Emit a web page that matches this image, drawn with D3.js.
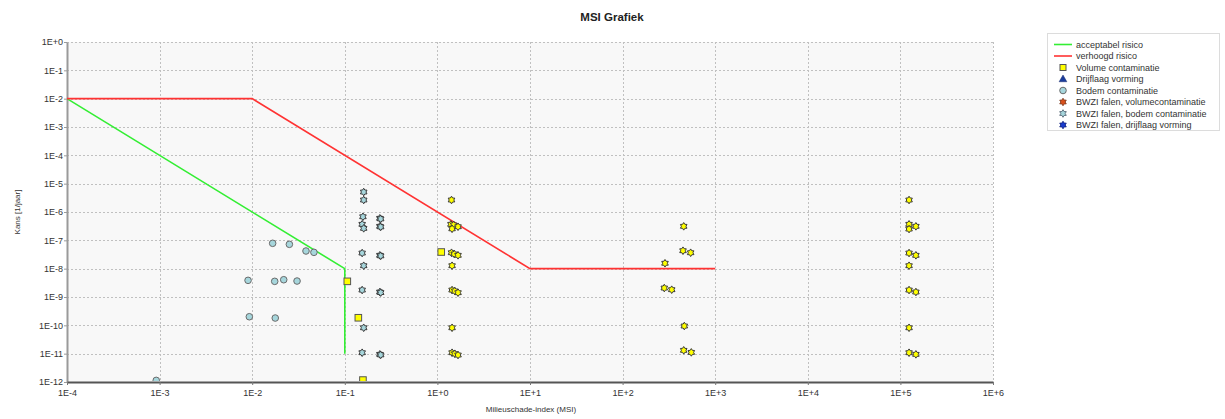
<!DOCTYPE html>
<html>
<head>
<meta charset="utf-8">
<script src="https://cdn.jsdelivr.net/npm/d3@7"></script>
<style>
  html, body { margin: 0; padding: 0; background: #fff; }
  svg { display: block; font-family: "Liberation Sans", Arial, sans-serif; }
</style>
</head>
<body>
<svg id="chart" width="1225" height="419"></svg>
<script>
// ---- Data ----------------------------------------------------------------
const chartTitle = "MSI Grafiek";
const xTitle = "Milieuschade-index (MSI)";
const yTitle = "Kans [1/jaar]";

const xTickValues = [1e-4, 1e-3, 1e-2, 1e-1, 1e0, 1e1, 1e2, 1e3, 1e4, 1e5, 1e6];
const xTickLabels = ["1E-4", "1E-3", "1E-2", "1E-1", "1E+0", "1E+1", "1E+2", "1E+3", "1E+4", "1E+5", "1E+6"];
const yTickValues = [1e0, 1e-1, 1e-2, 1e-3, 1e-4, 1e-5, 1e-6, 1e-7, 1e-8, 1e-9, 1e-10, 1e-11, 1e-12];
const yTickLabels = ["1E+0", "1E-1", "1E-2", "1E-3", "1E-4", "1E-5", "1E-6", "1E-7", "1E-8", "1E-9", "1E-10", "1E-11", "1E-12"];

// risk boundaries [MSI, kans]
const acceptabelRisico = [[1e-4, 1e-2], [1e-1, 1e-8], [1e-1, 1e-11]];
const verhoogdRisico = [[1e-4, 1e-2], [1e-2, 1e-2], [1e1, 1e-8], [1e3, 1e-8]];

// scenario points [MSI, kans]
const volumeContaminatie = [
  [0.1064, 3.57e-9], [0.140, 1.85e-10], [0.157, 1.17e-12], [1.10, 3.87e-8]
];
const drijflaagVorming = [];
const bodemContaminatie = [
  [0.01663, 7.85e-8], [0.0252, 7.23e-8], [0.0381, 4.2e-8], [0.0464, 3.77e-8],
  [0.00902, 3.87e-9], [0.0175, 3.57e-9], [0.0219, 4.07e-9], [0.0305, 3.66e-9],
  [0.00931, 2.01e-10], [0.01774, 1.81e-10], [9.2e-4, 1.14e-12]
];
const bwziVolumeContaminatie = [
  // around MSI 1.5
  [1.42, 2.65e-6], [1.40, 3.67e-7], [1.50, 3.5e-7], [1.44, 2.55e-7], [1.67, 3.02e-7],
  [1.42, 3.65e-8], [1.52, 3.29e-8], [1.67, 2.96e-8], [1.44, 1.27e-8],
  [1.44, 1.76e-9], [1.54, 1.63e-9], [1.67, 1.42e-9], [1.44, 8.2e-11],
  [1.44, 1.08e-11], [1.54, 9.93e-12], [1.67, 8.95e-12],
  // around MSI 450
  [457, 3.12e-7], [449, 4.3e-8], [543, 3.65e-8], [287, 1.55e-8],
  [282, 2.07e-9], [339, 1.81e-9], [464, 9.45e-11], [457, 1.31e-11], [552, 1.11e-11],
  // around MSI 1.3E+5
  [1.24e5, 2.65e-6], [1.24e5, 3.67e-7], [1.24e5, 2.5e-7], [1.47e5, 3.12e-7],
  [1.24e5, 3.56e-8], [1.47e5, 2.96e-8], [1.24e5, 1.27e-8],
  [1.24e5, 1.76e-9], [1.47e5, 1.5e-9], [1.24e5, 8.2e-11],
  [1.24e5, 1.08e-11], [1.47e5, 9.46e-12]
];
const bwziBodemContaminatie = [
  [0.16, 5.07e-6], [0.16, 2.65e-6], [0.157, 6.8e-7], [0.154, 3.67e-7], [0.16, 2.65e-7],
  [0.154, 3.56e-8], [0.16, 1.27e-8], [0.154, 1.76e-9], [0.16, 8.2e-11], [0.154, 1.08e-11],
  [0.239, 5.98e-7], [0.244, 5.7e-7], [0.239, 3.12e-7], [0.244, 2.98e-7],
  [0.239, 2.96e-8], [0.244, 2.83e-8], [0.239, 1.5e-9], [0.244, 1.43e-9],
  [0.239, 9.46e-12], [0.244, 9.05e-12]
];
const bwziDrijflaagVorming = [];

const legendLabels = [
  "acceptabel risico", "verhoogd risico", "Volume contaminatie", "Drijflaag vorming",
  "Bodem contaminatie", "BWZI falen, volumecontaminatie", "BWZI falen, bodem contaminatie",
  "BWZI falen, drijflaag vorming"
];

// ---- Layout & scales ---------------------------------------------------------
const plot = { left: 67, right: 993, top: 42, bottom: 382 };
const x = d3.scaleLog().domain([1e-4, 1e6]).range([plot.left, plot.right]);
const y = d3.scaleLog().domain([1e-12, 1e0]).range([plot.bottom, plot.top]);

const svg = d3.select("#chart");

// six-pointed star marker
function star6(R, r) {
  const pts = [];
  for (let i = 0; i < 12; i++) {
    const a = -Math.PI / 2 + i * Math.PI / 6;
    const rad = i % 2 === 0 ? R : r;
    pts.push([rad * Math.cos(a), rad * Math.sin(a)]);
  }
  return "M" + pts.map(p => p[0].toFixed(2) + "," + p[1].toFixed(2)).join("L") + "Z";
}
const starPath = star6(3.8, 2.3);

// plot background
svg.append("rect")
  .attr("x", plot.left).attr("y", plot.top)
  .attr("width", plot.right - plot.left).attr("height", plot.bottom - plot.top)
  .attr("fill", "#f8f8f8");

// grid
const grid = svg.append("g").attr("stroke", "#c0c0c0").attr("stroke-dasharray", "2,2").attr("stroke-width", 1);
grid.selectAll("line.v").data(xTickValues).join("line")
  .attr("x1", d => Math.round(x(d)) + 0.5).attr("x2", d => Math.round(x(d)) + 0.5)
  .attr("y1", plot.top).attr("y2", plot.bottom);
grid.selectAll("line.h").data(yTickValues).join("line")
  .attr("y1", d => Math.round(y(d)) + 0.5).attr("y2", d => Math.round(y(d)) + 0.5)
  .attr("x1", plot.left).attr("x2", plot.right);

// axes
const yAxis = d3.axisLeft(y).tickValues(yTickValues)
  .tickFormat((d, i) => yTickLabels[i]).tickSizeInner(3).tickSizeOuter(0).tickPadding(1);
const xAxis = d3.axisBottom(x).tickValues(xTickValues)
  .tickFormat((d, i) => xTickLabels[i]).tickSizeInner(3).tickSizeOuter(0).tickPadding(5);

const gy = svg.append("g").attr("transform", `translate(${plot.left},0)`).call(yAxis);
gy.select(".domain").attr("stroke", "#9a9a9a").attr("stroke-width", 2);
gy.selectAll(".tick line").attr("stroke", "#9a9a9a");
gy.selectAll(".tick text").attr("font-size", 9).attr("fill", "#333")
  .attr("font-family", "Liberation Sans, Arial, sans-serif");

const gx = svg.append("g").attr("transform", `translate(0,${plot.bottom})`).call(xAxis);
gx.select(".domain").attr("stroke", "#555").attr("stroke-width", 2);
gx.selectAll(".tick line").attr("stroke", "#777");
gx.selectAll(".tick text").attr("font-size", 9).attr("fill", "#333")
  .attr("font-family", "Liberation Sans, Arial, sans-serif");

// clip region for series
svg.append("clipPath").attr("id", "plotClip").append("rect")
  .attr("x", plot.left).attr("y", plot.top - 5)
  .attr("width", plot.right - plot.left + 5).attr("height", plot.bottom - plot.top + 4);

const series = svg.append("g").attr("clip-path", "url(#plotClip)");
const line = d3.line().x(d => x(d[0])).y(d => y(d[1]));

series.append("path").datum(acceptabelRisico).attr("d", line)
  .attr("fill", "none").attr("stroke", "#33ee33").attr("stroke-width", 1.6);
series.append("path").datum(verhoogdRisico).attr("d", line)
  .attr("fill", "none").attr("stroke", "#ff3333").attr("stroke-width", 1.6);

series.selectAll("circle.bodem").data(bodemContaminatie).join("circle")
  .attr("cx", d => x(d[0])).attr("cy", d => y(d[1])).attr("r", 3.3)
  .attr("fill", "#a6d6dc").attr("stroke", "#6a6a6a").attr("stroke-width", 1);

series.selectAll("rect.volume").data(volumeContaminatie).join("rect")
  .attr("x", d => x(d[0]) - 3.3).attr("y", d => y(d[1]) - 3.3)
  .attr("width", 6.6).attr("height", 6.6)
  .attr("fill", "#ffff00").attr("stroke", "#555").attr("stroke-width", 1);

series.selectAll("path.tri").data(drijflaagVorming).join("path")
  .attr("transform", d => `translate(${x(d[0])},${y(d[1])})`)
  .attr("d", d3.symbol(d3.symbolTriangle, 40)).attr("fill", "#1a3c9c");

series.selectAll("path.bwziBodem").data(bwziBodemContaminatie).join("path")
  .attr("transform", d => `translate(${x(d[0])},${y(d[1])})`)
  .attr("d", starPath).attr("fill", "#a6d6dc").attr("stroke", "#3a3a3a").attr("stroke-width", 1);

series.selectAll("path.bwziVolume").data(bwziVolumeContaminatie).join("path")
  .attr("transform", d => `translate(${x(d[0])},${y(d[1])})`)
  .attr("d", starPath).attr("fill", "#ffff00").attr("stroke", "#3a3a3a").attr("stroke-width", 1);

series.selectAll("path.bwziDrijf").data(bwziDrijflaagVorming).join("path")
  .attr("transform", d => `translate(${x(d[0])},${y(d[1])})`)
  .attr("d", starPath).attr("fill", "#1a3ccc");

// titles
svg.append("text").attr("x", 612).attr("y", 21).attr("text-anchor", "middle")
  .attr("font-size", 11.5).attr("font-weight", "bold").attr("fill", "#222").text(chartTitle);
svg.append("text").attr("x", 531).attr("y", 412).attr("text-anchor", "middle")
  .attr("font-size", 8).attr("fill", "#333").text(xTitle);
svg.append("text").attr("transform", "translate(20,212) rotate(-90)").attr("text-anchor", "middle")
  .attr("font-size", 8).attr("fill", "#333").text(yTitle);

// legend
const lg = svg.append("g");
lg.append("rect").attr("x", 1047.5).attr("y", 33.5).attr("width", 172).attr("height", 97)
  .attr("fill", "#fff").attr("stroke", "#dcdcdc");
const rowY = i => 44.5 + i * 11.5;
const mx = 1063;
lg.append("line").attr("x1", 1054).attr("x2", 1072).attr("y1", rowY(0)).attr("y2", rowY(0))
  .attr("stroke", "#33ee33").attr("stroke-width", 1.6);
lg.append("line").attr("x1", 1054).attr("x2", 1072).attr("y1", rowY(1)).attr("y2", rowY(1))
  .attr("stroke", "#ff3333").attr("stroke-width", 1.6);
lg.append("rect").attr("x", mx - 3).attr("y", rowY(2) - 3).attr("width", 6).attr("height", 6)
  .attr("fill", "#ffff00").attr("stroke", "#555");
lg.append("path").attr("transform", `translate(${mx},${rowY(3) + 0.5})`)
  .attr("d", d3.symbol(d3.symbolTriangle, 26)).attr("fill", "#1a3c9c").attr("stroke", "#1a2c6c").attr("stroke-width", 0.5);
lg.append("circle").attr("cx", mx).attr("cy", rowY(4)).attr("r", 3.3)
  .attr("fill", "#a6d6dc").attr("stroke", "#6a6a6a");
lg.append("path").attr("transform", `translate(${mx},${rowY(5)})`).attr("d", star6(3.8, 2.2))
  .attr("fill", "#d8501c").attr("stroke", "#7a3a20").attr("stroke-width", 0.8);
lg.append("path").attr("transform", `translate(${mx},${rowY(6)})`).attr("d", star6(3.8, 2.2))
  .attr("fill", "#a6d6dc").attr("stroke", "#4a5a6a").attr("stroke-width", 0.8);
lg.append("path").attr("transform", `translate(${mx},${rowY(7)})`).attr("d", star6(3.8, 2.2))
  .attr("fill", "#1a3ccc").attr("stroke", "#10207a").attr("stroke-width", 0.8);
lg.selectAll("text").data(legendLabels).join("text")
  .attr("x", 1076).attr("y", (d, i) => rowY(i) + 3.2)
  .attr("font-size", 9).attr("fill", "#333").text(d => d);
</script>
</body>
</html>
